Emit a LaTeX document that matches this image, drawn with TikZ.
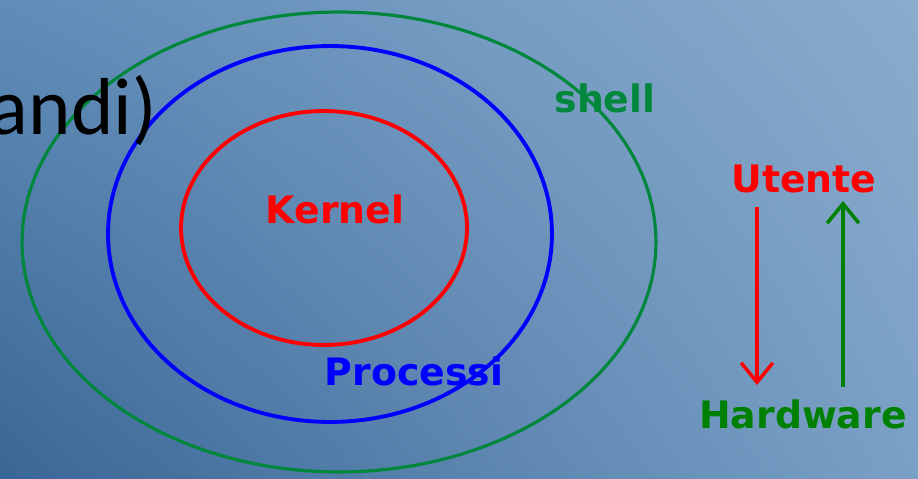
\documentclass[tikz,border=0pt]{standalone}
\usepackage{fontspec}
\setmainfont{DejaVu Sans}
\newfontfamily\calfont{Carlito}
\usetikzlibrary{arrows.meta,shadings}

\definecolor{bgtl}{RGB}{96,140,184}
\definecolor{bgtr}{RGB}{138,172,204}
\definecolor{bgbl}{RGB}{58,102,150}
\definecolor{bgbr}{RGB}{122,160,198}
\definecolor{shellgreen}{RGB}{0,135,60}
\definecolor{hwgreen}{RGB}{0,128,0}

\begin{document}
\begin{tikzpicture}[x=0.02cm, y=-0.02cm,
lbl/.style={font=\bfseries\fontsize{21.5}{24}\selectfont, anchor=base, inner sep=0pt},
ring/.style={line width=2.2pt},
updown/.style={line width=2.3pt, -{Straight Barb[length=11pt,width=18pt,line width=2pt]}}]
%================================================================
%	Background
\shade[upper left=bgtl, upper right=bgtr, lower left=bgbl, lower right=bgbr] (0,0) rectangle (918,479);
\useasboundingbox (0,0) rectangle (918,479);

%================================================================
%	Rings
\draw[ring, shellgreen, line width=1.8pt] (339,242) ellipse [x radius=6.34cm, y radius=4.60cm];
\draw[ring, blue] (330,234) ellipse [x radius=4.44cm, y radius=3.76cm];
\draw[ring, red] (324,228) ellipse [x radius=2.86cm, y radius=2.34cm];

%================================================================
%	Nodes
\node[anchor=base east, inner sep=0pt, font=\calfont\fontsize{46}{50}\selectfont] (cmd) at (157,135) {andi)};
%----------------------------------------------------------------
\node[lbl, text=shellgreen] (shell) at (605,113) {shell};
\node[lbl, text=red] (kern) at (335,224) {Kernel};
\node[lbl, text=blue] (proc) at (414,385) {Processi};
%----------------------------------------------------------------
\node[lbl, text=red] (user) at (804,193) {Utente};
\node[lbl, text=hwgreen] (hw) at (803,428) {Hardware};
%----------------------------------------------------------------
\coordinate (d1) at (757,207);
\coordinate (d2) at (757,385);
\coordinate (u1) at (843,387);
\coordinate (u2) at (843,201);

%================================================================
%	Arrows
\draw[updown, red] (d1) -- (d2);
\draw[updown, hwgreen] (u1) -- (u2);
%================================================================
\end{tikzpicture}
\end{document}
